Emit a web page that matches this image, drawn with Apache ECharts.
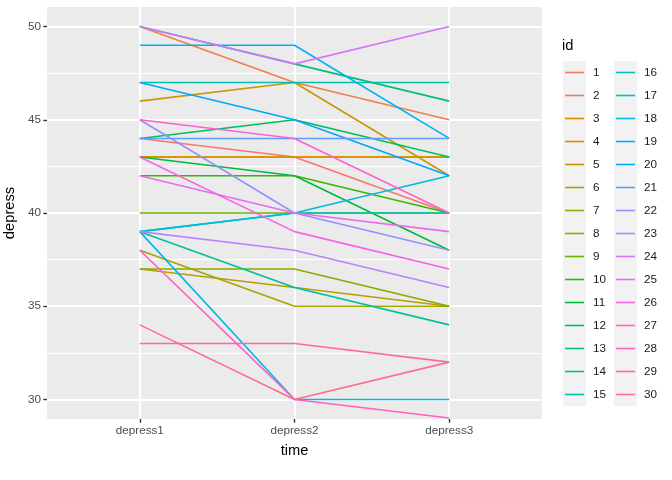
<!DOCTYPE html>
<html>
<head>
<meta charset="utf-8">
<script src="https://cdn.jsdelivr.net/npm/echarts@6/dist/echarts.min.js"></script>
<style>
html,body{margin:0;padding:0;background:#fff;}
#chart{width:672px;height:480px;}
</style>
</head>
<body>
<div id="chart"></div>
<script>
// ---- data ----
const ids = ['1','2','3','4','5','6','7','8','9','10','11','12','13','14','15','16','17','18','19','20','21','22','23','24','25','26','27','28','29','30'];
const timeLabels = ['depress1','depress2','depress3'];
const depress1 = [44,50,43,43,46,37,38,37,40,42,43,44,50,39,47,39,39,39,49,47,44,45,39,50,42,43,45,38,33,34];
const depress2 = [43,47,43,43,47,36,35,37,40,42,42,45,48,36,47,40,40,30,49,45,44,40,38,48,40,39,44,30,33,30];
const depress3 = [40,45,43,43,42,35,35,35,40,40,38,43,46,34,47,40,42,30,44,42,44,38,36,50,39,37,40,29,32,32];
const yTicks = [30,35,40,45,50];

// ggplot2 hue palette (HCL, c=100, l=65)
function hcl2hex(h, c, l) {
  const hr = h * Math.PI / 180;
  const U = c * Math.cos(hr), V = c * Math.sin(hr);
  const Xn = 95.047, Yn = 100.0, Zn = 108.883;
  const Y = l > 8 ? Yn * Math.pow((l + 16) / 116, 3) : Yn * l / 903.3;
  const den = Xn + 15 * Yn + 3 * Zn;
  const un = 4 * Xn / den, vn = 9 * Yn / den;
  const up = U / (13 * l) + un, vp = V / (13 * l) + vn;
  const X = 9 * Y * up / (4 * vp);
  const Z = -X / 3 - 5 * Y + 3 * Y / vp;
  const x = X / 100, y = Y / 100, z = Z / 100;
  let r = 3.240479 * x - 1.537150 * y - 0.498535 * z;
  let g = -0.969256 * x + 1.875992 * y + 0.041556 * z;
  let b = 0.055648 * x - 0.204043 * y + 1.057311 * z;
  const gam = v => { v = v <= 0.0031308 ? 12.92 * v : 1.055 * Math.pow(v, 1 / 2.4) - 0.055; return Math.round(Math.min(1, Math.max(0, v)) * 255); };
  return '#' + [gam(r), gam(g), gam(b)].map(v => v.toString(16).padStart(2, '0')).join('');
}
const n = ids.length;
const colors = ids.map((_, i) => hcl2hex(15 + 360 * i / n, 100, 65));

const chart = echarts.init(document.getElementById('chart'), null, {renderer: 'canvas'});

const minor = [];
for (let i = 0; i < yTicks.length - 1; i++) minor.push((yTicks[i] + yTicks[i + 1]) / 2);
minor.unshift(yTicks[0] - 2.5);

const FONT = 'Liberation Sans, Arial, sans-serif';

const gridSeries = {
  type: 'line', data: [], z: 1, zlevel: 0, silent: true,
  markLine: {
    silent: true, z: 1, symbol: ['none', 'none'], label: {show: false}, animation: false,
    emphasis: {disabled: true},
    data: [].concat(
      minor.map(v => ({yAxis: v, lineStyle: {color: '#ffffff', width: 0.95, type: 'solid'}})),
      yTicks.map(v => ({yAxis: v, lineStyle: {color: '#ffffff', width: 1.9, type: 'solid'}})),
      [1, 2, 3].map(v => ({xAxis: v, lineStyle: {color: '#ffffff', width: 1.9, type: 'solid'}}))
    )
  }
};

const lineSeries = ids.map((id, i) => ({
  name: id,
  type: 'line',
  z: 10,
  symbol: 'none',
  animation: false,
  color: colors[i],
  lineStyle: {width: 1.6, color: colors[i]},
  emphasis: {disabled: true},
  data: [[1, depress1[i]], [2, depress2[i]], [3, depress3[i]]]
}));

const legendCommon = {
  orient: 'vertical', padding: 0, itemGap: 0, itemWidth: 19, itemHeight: 1.6,
  icon: 'rect',
  selectedMode: false,
  textStyle: {fontFamily: FONT, fontSize: 11.7, color: '#1a1a1a', lineHeight: 23, padding: [0, 0, 0, 4]}
};

const option = {
  animation: false,
  backgroundColor: '#ffffff',
  title: {text: 'id', left: 562, top: 38, padding: 0,
    textStyle: {fontFamily: FONT, fontSize: 14.7, fontWeight: 'normal', color: '#000'}},
  graphic: [
    {type: 'rect', shape: {x: 563, y: 61, width: 23, height: 345}, style: {fill: '#F2F2F2'}, z: -1},
    {type: 'rect', shape: {x: 614, y: 61, width: 23, height: 345}, style: {fill: '#F2F2F2'}, z: -1}
  ],
  legend: [
    Object.assign({}, legendCommon, {data: ids.slice(0, 15), left: 565, top: 61}),
    Object.assign({}, legendCommon, {data: ids.slice(15), left: 616, top: 61})
  ],
  grid: {left: 47, right: 130, top: 7, bottom: 61, show: true, backgroundColor: '#EBEBEB', borderWidth: 0,
    containLabel: false, outerBoundsMode: 'none'},
  xAxis: {
    type: 'value', min: 0.4, max: 3.6,
    name: 'time', nameLocation: 'middle', nameGap: 24,
    nameTextStyle: {fontFamily: FONT, fontSize: 14.7, color: '#000'},
    axisLine: {show: false},
    splitLine: {show: false},
    axisTick: {show: true, inside: false, length: 3.7, lineStyle: {color: '#333333', width: 1.4}, customValues: [1, 2, 3]},
    axisLabel: {customValues: [1, 2, 3], margin: 6, color: '#4D4D4D',
      fontFamily: FONT, fontSize: 11.7,
      formatter: v => timeLabels[Math.round(v) - 1] || ''}
  },
  yAxis: {
    type: 'value', min: 28.95, max: 51.05,
    name: 'depress', nameLocation: 'middle', nameGap: 30, nameRotate: 90,
    nameTextStyle: {fontFamily: FONT, fontSize: 14.7, color: '#000'},
    axisLine: {show: false},
    splitLine: {show: false},
    axisTick: {show: true, inside: false, length: 3.7, lineStyle: {color: '#333333', width: 1.4}, customValues: yTicks},
    axisLabel: {customValues: yTicks, margin: 6, color: '#4D4D4D',
      fontFamily: FONT, fontSize: 11.7}
  },
  series: [gridSeries].concat(lineSeries)
};
chart.setOption(option);
</script>
</body>
</html>
